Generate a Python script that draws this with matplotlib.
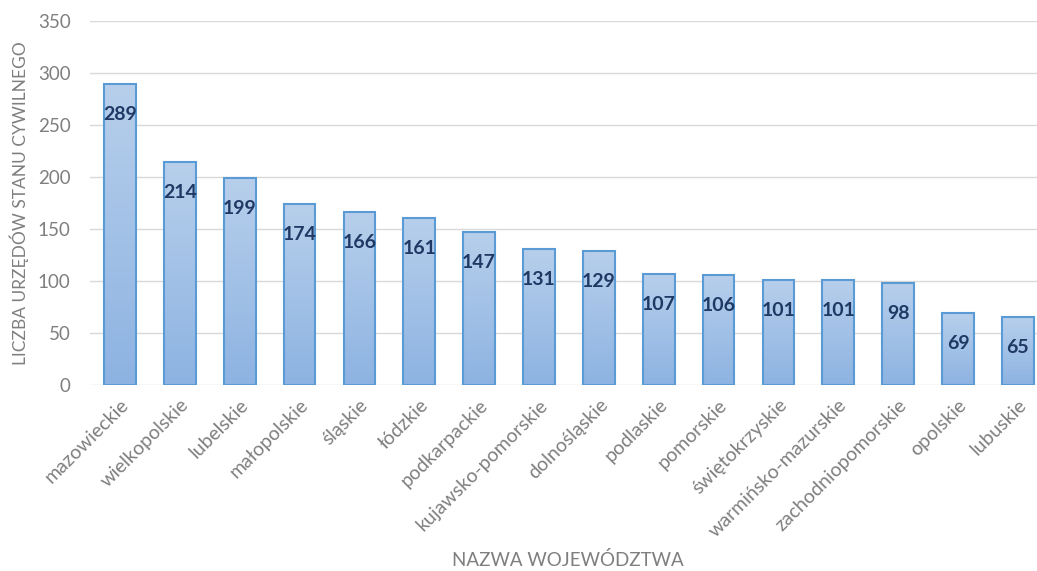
import numpy as np
import matplotlib.pyplot as plt
from matplotlib.colors import LinearSegmentedColormap

regions = ["mazowieckie", "wielkopolskie", "lubelskie", "małopolskie", "śląskie",
           "łódzkie", "podkarpackie", "kujawsko-pomorskie", "dolnośląskie", "podlaskie",
           "pomorskie", "świętokrzyskie", "warmińsko-mazurskie", "zachodniopomorskie",
           "opolskie", "lubuskie"]
counts = [289, 214, 199, 174, 166, 161, 147, 131, 129, 107, 106, 101, 101, 98, 69, 65]

plt.rcParams['font.family'] = ['Lato', 'DejaVu Sans']
gray = '#7f7f7f'

fig = plt.figure(figsize=(10.37, 5.71), dpi=100)
ax = fig.add_axes([0.0868, 0.3257, 0.9132, 0.6376])

x = np.arange(len(regions))
bars = ax.bar(x, counts, width=0.53, color='none', edgecolor='#5b9bd5', linewidth=1.5, zorder=3)

# vertical gradient inside each bar: lighter at top, darker at bottom
grad = np.linspace(0, 1, 256).reshape(-1, 1)
cmap = LinearSegmentedColormap.from_list('bar', ['#8db3e2', '#b7cfeb'])
for b in bars:
    x0, y0 = b.get_x(), b.get_y()
    w, h = b.get_width(), b.get_height()
    im = ax.imshow(grad, extent=[x0, x0 + w, y0, y0 + h], origin='lower',
                   cmap=cmap, aspect='auto', zorder=2)
    im.set_clip_path(b)

for xi, v in zip(x, counts):
    ax.annotate(str(v), (xi, v), xytext=(0, -22), textcoords='offset points',
                ha='center', va='center', fontsize=14, fontweight='bold',
                color='#1f3864', zorder=4)

ax.set_xlim(-0.5, 15.32)
ax.set_ylim(0, 350)
ax.set_yticks(range(0, 351, 50))
ax.grid(axis='y', color='#d9d9d9', linewidth=1, zorder=0)
ax.set_axisbelow(True)
for s in ax.spines.values():
    s.set_visible(False)
ax.tick_params(length=0, colors=gray, labelsize=13.5)
ax.set_xticks(x)
ax.set_xticklabels(regions, rotation=45, ha='right', rotation_mode='anchor', fontsize=14)
ax.tick_params(axis='x', pad=8)
ax.tick_params(axis='y', pad=14)

ax.set_ylabel("LICZBA URZĘDÓW STANU CYWILNEGO", color=gray, fontsize=12.5, labelpad=6)
ax.set_xlabel("NAZWA WOJEWÓDZTWA", color=gray, fontsize=13.5, va='center')
ax.xaxis.set_label_coords(0.505, -0.48)

fig.savefig('out.png', dpi=100)
